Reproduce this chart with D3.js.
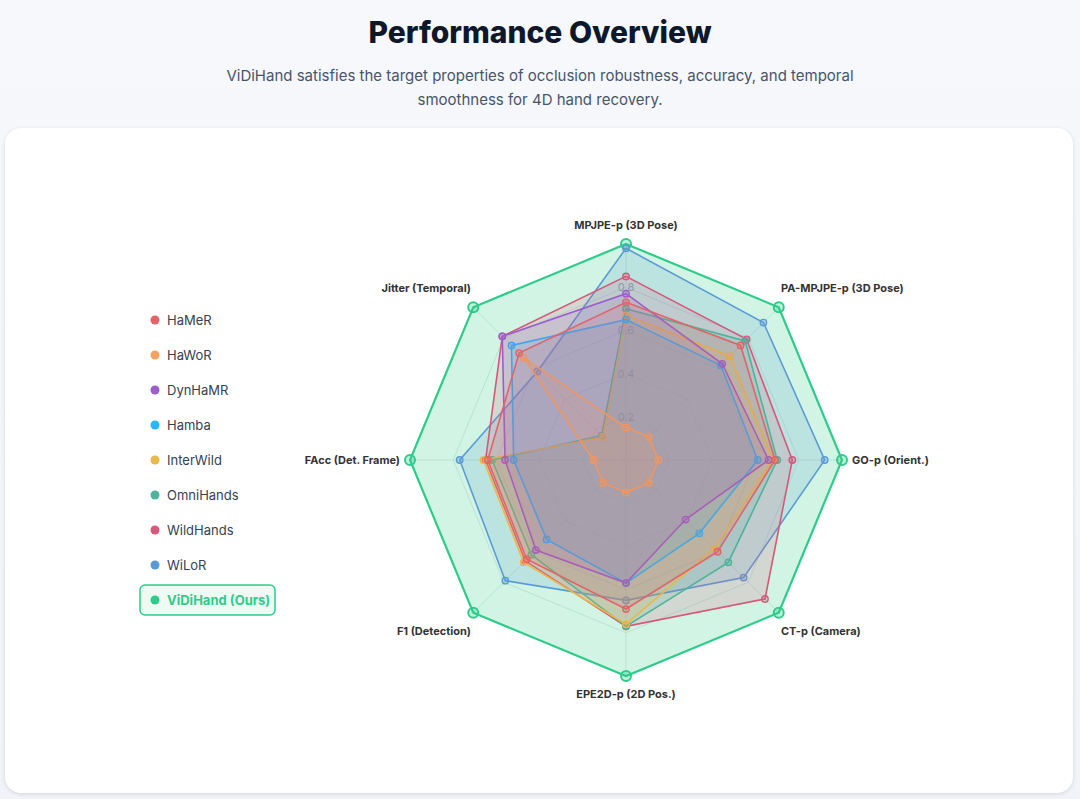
<!DOCTYPE html>
<html><head><meta charset="utf-8">
<script src="https://cdn.jsdelivr.net/npm/d3@7"></script>
<style>
body{margin:0;width:1080px;height:799px;background:linear-gradient(#f7f8fc,#f1f3f8);font-family:Inter,"Noto Sans",sans-serif;overflow:hidden}
h1{margin:0;position:absolute;top:14px;width:1080px;text-align:center;font-size:30px;font-weight:800;color:#0f172a}
.sub{position:absolute;top:64px;width:1080px;text-align:center;font-size:15px;line-height:24px;color:#475569}
.card{position:absolute;left:5px;top:128px;width:1068px;height:665px;background:#fff;border-radius:16px;box-shadow:0 1px 4px rgba(0,0,0,0.12)}
svg{position:absolute;left:0;top:0}
</style></head><body>
<h1>Performance Overview</h1>
<div class="sub">ViDiHand satisfies the target properties of occlusion robustness, accuracy, and temporal<br>smoothness for 4D hand recovery.</div>
<div class="card"></div>
<svg id="c" width="1080" height="799"></svg>
<script>
const axes=["MPJPE-p (3D Pose)","PA-MPJPE-p (3D Pose)","GO-p (Orient.)","CT-p (Camera)","EPE2D-p (2D Pos.)","F1 (Detection)","FAcc (Det. Frame)","Jitter (Temporal)"];
const names=["HaMeR","HaWoR","DynHaMR","Hamba","InterWild","OmniHands","WildHands","WiLoR","ViDiHand (Ours)"];
const colors=["#e06469","#f4a261","#9b5fc9","#29b6f6","#e9b949","#4db39a","#d6587a","#5b9bd5","#2ecc8a"];
const HaMeR=[0.73,0.75,0.69,0.60,0.69,0.65,0.64,0.70];
const HaWoR=[0.15,0.15,0.15,0.15,0.15,0.15,0.15,0.67];
const DynHaMR=[0.77,0.63,0.66,0.39,0.57,0.59,0.56,0.81];
const Hamba=[0.65,0.62,0.61,0.48,0.57,0.52,0.52,0.75];
const InterWild=[0.67,0.68,0.68,0.58,0.76,0.67,0.66,0.15];
const OmniHands=[0.70,0.78,0.70,0.67,0.77,0.62,0.62,0.16];
const WildHands=[0.85,0.79,0.77,0.91,0.77,0.66,0.65,0.81];
const WiLoR=[0.98,0.90,0.92,0.77,0.65,0.79,0.77,0.58];
const ViDiHand=[1,1,1,1,1,1,1,1];
const series=[HaMeR,HaWoR,DynHaMR,Hamba,InterWild,OmniHands,WildHands,WiLoR,ViDiHand];
const ticks=[0.2,0.4,0.6,0.8,1.0];
const tickLabels=["0.2","0.4","0.6","0.8"];

const svg=d3.select("#c");
const cx=626,cy=460,R=216;
const r=d3.scaleLinear().domain([0,1]).range([0,R]);
const ang=d3.scalePoint().domain(d3.range(axes.length+1)).range([0,2*Math.PI]);
const pt=(i,v)=>[cx+r(v)*Math.sin(ang(i)),cy-r(v)*Math.cos(ang(i))];
const g=svg.append("g");
ticks.forEach(t=>{g.append("polygon").attr("points",axes.map((a,i)=>pt(i,t).join(",")).join(" ")).attr("fill","none").attr("stroke","#e5e7eb").attr("stroke-width",1);});
axes.forEach((a,i)=>{const p=pt(i,1);g.append("line").attr("x1",cx).attr("y1",cy).attr("x2",p[0]).attr("y2",p[1]).attr("stroke","#e5e7eb");});
tickLabels.forEach((l,k)=>{g.append("text").attr("x",cx).attr("y",cy-r(ticks[k])+4).attr("text-anchor","middle").attr("font-size",11).attr("fill","#9ca3af").text(l);});
const order=[8,7,6,5,4,3,2,1,0];
order.forEach(s=>{
  const vals=series[s],c=colors[s];
  const pts=vals.map((v,i)=>pt(i,v));
  g.append("polygon").attr("points",pts.map(p=>p.join(",")).join(" ")).attr("fill",c).attr("fill-opacity",s==8?0.22:0.18).attr("stroke",c).attr("stroke-width",s==8?2.2:1.6);
  pts.forEach(p=>g.append("circle").attr("cx",p[0]).attr("cy",p[1]).attr("r",s==8?5:3.2).attr("fill",c).attr("fill-opacity",0.3).attr("stroke",c).attr("stroke-width",s==8?2:1.4));
});
axes.forEach((a,i)=>{
  const p=pt(i,1.08),sn=Math.sin(ang(i));
  const anchor=Math.abs(sn)<0.1?"middle":(sn>0?"start":"end");
  let y=p[1]+4; if(i==0)y=cy-R-15; if(i==4)y=cy+R+22;
  let x=p[0]; if(i==1||i==3)x=p[0]-10; if(i==5||i==7)x=p[0]+10;
  if(i==1)y=p[1]-3; if(i==7)y=p[1]-3; if(i==3||i==5)y=p[1]+10;
  if(i==2)x=cx+R+10; if(i==6)x=cx-R-10;
  g.append("text").attr("x",x).attr("y",y).attr("text-anchor",anchor).attr("font-size",11).attr("font-weight",700).attr("fill","#333").text(a);
});
const ly=d3.scaleLinear().domain([0,8]).range([320,600]);
names.forEach((n,i)=>{
  const y=ly(i);
  if(i==8){svg.append("rect").attr("x",140).attr("y",y-15).attr("width",135).attr("height",30).attr("rx",5).attr("fill","#effaf5").attr("stroke",colors[8]).attr("stroke-width",1.5);}
  svg.append("circle").attr("cx",155).attr("cy",y).attr("r",4.5).attr("fill",colors[i]);
  svg.append("text").attr("x",167).attr("y",y+4.5).attr("font-size",13).attr("fill",i==8?colors[8]:"#374151").attr("font-weight",i==8?700:400).text(n);
});
</script></body></html>
